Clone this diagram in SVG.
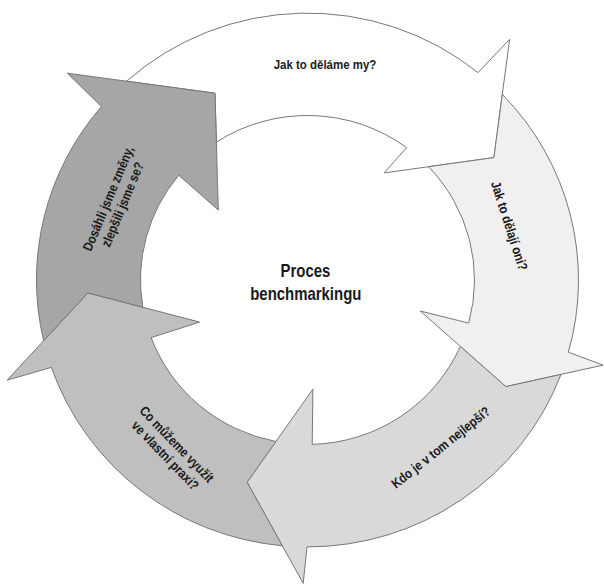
<svg xmlns="http://www.w3.org/2000/svg" width="604" height="585" viewBox="0 0 604 585">
<style>
.arrow{stroke:#777777;stroke-width:1;stroke-linejoin:miter}
.lbl{font-family:"Liberation Sans",Arial,sans-serif;font-weight:bold;font-size:13.5px;fill:#1a1a1a;text-anchor:middle}
.ctr{font-family:"Liberation Sans",Arial,sans-serif;font-weight:bold;font-size:18px;fill:#1a1a1a;text-anchor:middle}
</style>
<rect width="604" height="585" fill="#ffffff"/>
<g id="arrow-jak-to-delame-my">
<path class="arrow" fill="#ffffff" d="M126.6,81.2 A271,266.9 0 0 1 478.0,72.6 L509.6,39.4 L493.9,157.6 L384.2,172.9 L406.6,147.6 A167,164.5 0 0 0 216.4,142.1 L215.0,93.2 Z"/>
<text class="lbl" transform="translate(325,69) scale(0.85,1)">Jak to děláme my?</text>
</g>
<g id="arrow-jak-to-delaji-oni">
<path class="arrow" fill="#f0f0f0" d="M502.3,94.4 A271,266.9 0 0 1 568.4,352.2 L603.1,365.1 L505.9,386.6 L420.2,311.0 L468.7,323.1 A167,164.5 0 0 0 428.6,166.7 L493.9,157.6 Z"/>
<text class="lbl" transform="translate(509.2,225.8) rotate(72.2) scale(0.85,1)" y="4.5">Jak to dělají oni?</text>
</g>
<g id="arrow-kdo-je-v-tom-nejlepsi">
<path class="arrow" fill="#d9d9d9" d="M561.0,374.4 A271,266.9 0 0 1 307.0,546.9 L303.2,583.4 L247.1,482.2 L312.9,389.2 L312.2,444.4 A167,164.5 0 0 0 460.3,346.4 L505.9,386.6 Z"/>
<text class="lbl" transform="translate(440.8,447.5) rotate(-38.6) scale(0.85,1)" y="4.5">Kdo je v tom nejlepší?</text>
</g>
<g id="arrow-co-muzeme-vyuzit">
<path class="arrow" fill="#bfbfbf" d="M282.4,545.8 A271,266.9 0 0 1 51.4,367.4 L7.2,380.1 L87.9,292.9 L199.6,322.1 L151.1,337.6 A167,164.5 0 0 0 275.9,441.5 L247.1,482.2 Z"/>
<text class="lbl" transform="translate(171,450) rotate(46) scale(0.85,1)"><tspan x="0" y="-3.5">Co můžeme využít</tspan><tspan x="0" y="12.5">ve vlastní praxi?</tspan></text>
</g>
<g id="arrow-dosahli-jsme-zmeny">
<path class="arrow" fill="#a6a6a6" d="M43.6,340.7 A271,266.9 0 0 1 101.4,106.6 L67.4,73.2 L215.0,93.2 L218.3,210.1 L178.8,175.2 A167,164.5 0 0 0 142.8,307.2 L87.9,292.9 Z"/>
<text class="lbl" transform="translate(115.5,201.6) rotate(-67.5) scale(0.85,1)"><tspan x="0" y="-3.25">Dosáhli jsme změny,</tspan><tspan x="0" y="12.25">zlepšili jsme se?</tspan></text>
</g>
<g id="center">
<text class="ctr" transform="translate(305.5,277.3) scale(0.83,1)">Proces</text>
<text class="ctr" transform="translate(305.8,300) scale(0.83,1)">benchmarkingu</text>
</g>
</svg>
